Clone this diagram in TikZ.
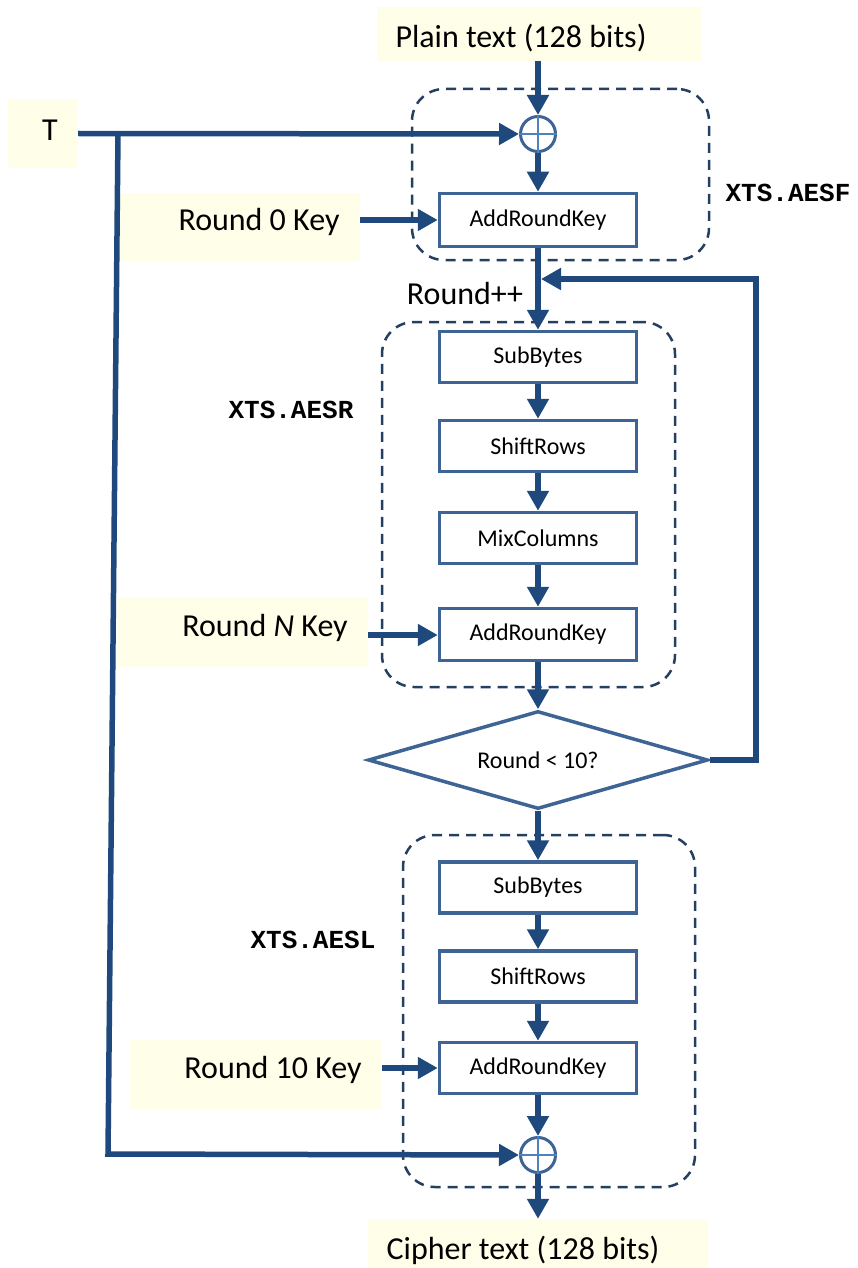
\documentclass[tikz,border=0pt]{standalone}
\usepackage{fontspec}
\setmainfont{Carlito}
\newfontfamily\codefont{Liberation Mono}
\usetikzlibrary{arrows.meta,shapes.geometric}

\definecolor{flowblue}{RGB}{31,73,125}
\definecolor{boxblue}{RGB}{62,100,150}
\definecolor{crossblue}{RGB}{79,129,189}
\definecolor{groupblue}{RGB}{36,63,96}
\definecolor{keyfill}{RGB}{255,254,232}

\tikzset{
  flow/.style={draw=flowblue, line width=6pt, -{Triangle[length=20pt,width=21pt]}},
  feed/.style={draw=flowblue, line width=5.5pt, -{Triangle[length=20pt,width=21pt]}},
  stage/.style={draw=boxblue, line width=3.5pt, fill=white, minimum width=197pt,
    minimum height=51pt, inner sep=0pt, font=\fontsize{24}{29}\selectfont},
  keybox/.style={fill=keyfill, inner sep=0pt},
  biglabel/.style={inner sep=0pt, font=\fontsize{32}{38}\selectfont},
  xtslabel/.style={inner sep=0pt, font=\codefont\bfseries\fontsize{26}{30}\selectfont},
  groupbox/.style={draw=groupblue, line width=2.5pt, dash pattern=on 10pt off 7pt,
    rounded corners=32pt, inner sep=0pt},
  xorgate/.style={circle, draw=boxblue, line width=3pt, fill=white,
    minimum size=35pt, inner sep=0pt},
  cross/.style={draw=crossblue, line width=2pt},
}

\begin{document}
\begin{tikzpicture}[x=1pt,y=-1pt]
\useasboundingbox (0,0) rectangle (857,1268);

% ---------- grouping frames ----------
\node[groupbox, minimum width=297pt, minimum height=171pt] (aesf) at (560.5,174.5) {};
\node[groupbox, minimum width=293pt, minimum height=365pt] (aesr) at (528.5,504.5) {};
\node[groupbox, minimum width=292pt, minimum height=352pt] (aesl) at (549,1011) {};

\node[xtslabel] (lblf) at (788,193) {XTS.AESF};
\node[xtslabel] (lblr) at (291,410) {XTS.AESR};
\node[xtslabel] (lbll) at (313,940) {XTS.AESL};

% ---------- inputs and outputs ----------
\node[keybox, minimum width=325pt, minimum height=54pt] (plain) at (539.5,34) {};
\node[biglabel] (plaintxt) at (521,38) {Plain text (128 bits)};

\node[keybox, minimum width=340pt, minimum height=54pt] (cipher) at (537.5,1246) {};
\node[biglabel] (ciphertxt) at (523,1250) {Cipher text (128 bits)};

\node[keybox, minimum width=70pt, minimum height=69pt] (tbox) at (43,133.5) {};
\node[biglabel] (ttxt) at (50,130) {T};

\node[keybox, minimum width=242pt, minimum height=69pt] (k0) at (239,227.5) {};
\node[biglabel] (k0txt) at (259,222) {Round 0 Key};

\node[keybox, minimum width=250pt, minimum height=69pt] (kn) at (243,632.5) {};
\node[biglabel] (kntxt) at (265,628) {Round \textit{N} Key};

\node[keybox, minimum width=252pt, minimum height=69pt] (k10) at (256,1074.5) {};
\node[biglabel] (k10txt) at (273,1070) {Round 10 Key};

% ---------- processing stages ----------
\node[xorgate] (x1) at (538,134) {};
\draw[cross] (x1.north) -- (x1.south) (x1.west) -- (x1.east);

\node[stage, minimum height=53pt] (ark1) at (538,220) {AddRoundKey};

\node[stage] (sb2) at (538,357) {SubBytes};
\node[stage] (sr2) at (538,446) {ShiftRows};
\node[stage] (mc2) at (538,538) {MixColumns};
\node[stage, minimum height=52pt] (ark2) at (538,634.5) {AddRoundKey};

\node[diamond, shape aspect=3.47, draw=boxblue, line width=3.5pt, fill=white, inner sep=0pt,
  minimum width=340pt, minimum height=98pt, font=\fontsize{24}{29}\selectfont]
  (test) at (538,760) {Round < 10?};

\node[stage] (sb3) at (538,887.5) {SubBytes};
\node[stage] (sr3) at (538,976.5) {ShiftRows};
\node[stage, minimum height=51pt] (ark3) at (538,1068) {AddRoundKey};

\node[xorgate] (x2) at (538,1155) {};
\draw[cross] (x2.north) -- (x2.south) (x2.west) -- (x2.east);

\node[biglabel] (inc) at (465,294) {Round++};

% ---------- data path ----------
\draw[flow] (plain.south -| x1) -- (x1.north);
\draw[flow] (x1.south) -- (ark1.north);
\draw[flow] (ark1.south) -- (sb2.north);
\draw[flow] (sb2.south) -- (sr2.north);
\draw[flow] (sr2.south) -- (mc2.north);
\draw[flow] (mc2.south) -- (ark2.north);
\draw[flow] (ark2.south) -- (test.north);
\draw[flow] (test.south) -- (sb3.north);
\draw[flow] (sb3.south) -- (sr3.north);
\draw[flow] (sr3.south) -- (ark3.north);
\draw[flow] (ark3.south) -- (x2.north);
\draw[flow] (x2.south) -- (cipher.north -| x2);

% loop back for the next round
\coordinate (loopjoin) at (538,279);
\draw[flow, line join=miter, shorten >=3pt] (test.east) -- (756,760) -- (756,279) -- (loopjoin);

% round keys
\draw[feed] (k0.east |- ark1) -- (ark1.west);
\draw[feed] (kn.east |- 0,635) -- (ark2.west |- 0,635);
\draw[feed] (k10.east |- 0,1068) -- (ark3.west |- 0,1068);

% tweak T
\coordinate (tsplit) at (118,134);
\coordinate (tcorner) at (108,1154);
\draw[feed] (tbox.east) -- (x1.west);
\draw[feed, line join=miter] (tsplit) -- (tcorner) -- (x2.west);

\end{tikzpicture}
\end{document}
